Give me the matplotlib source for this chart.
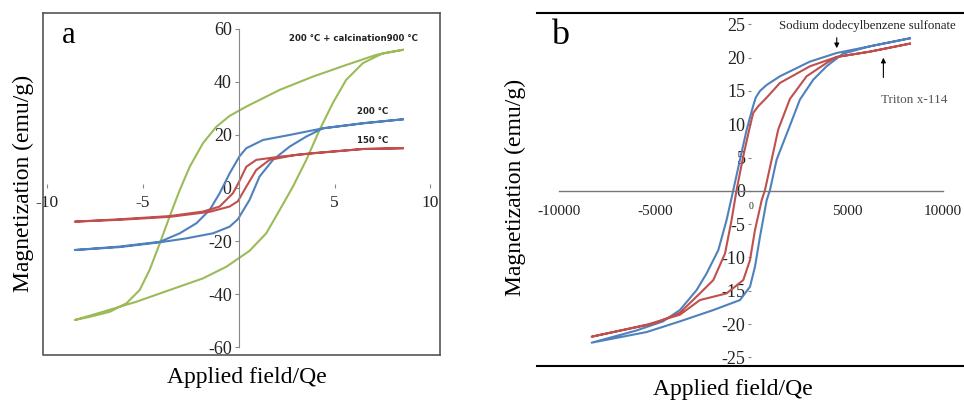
import numpy as np
import matplotlib
matplotlib.use('Agg')
import matplotlib.pyplot as plt

plt.rcParams['font.family'] = ['Liberation Serif', 'DejaVu Serif']

#-------------------- panel a data (field, magnetization) ----------------
a_red_up_x = [8.56, 6.48, 3.87, 2.14, 0.92, 0.4, 0.0, -0.3, -0.99, -1.86, -3.6, -6.2, -8.54]
a_red_up_m = [15.0, 14.7, 13.1, 11.8, 10.6, 8.0, 2.0, -2.0, -7.0, -8.9, -10.6, -11.8, -12.7]
a_red_lo_x = [-8.54, -6.2, -3.6, -1.51, -0.47, -0.04, 0.4, 0.92, 1.61, 3.0, 3.87, 6.48, 8.56]
a_red_lo_m = [-12.7, -12.0, -10.9, -9.0, -7.0, -5.0, 0.5, 6.8, 10.6, 12.5, 13.1, 14.7, 15.0]

a_blue_up_x = [8.56, 6.48, 4.39, 2.66, 1.27, 0.4, 0.05, -0.47, -0.99, -1.51, -2.2, -3.07, -4.11, -6.2, -8.54]
a_blue_up_m = [25.9, 24.4, 22.5, 20.0, 18.1, 15.0, 12.0, 5.5, -2.0, -8.3, -13.3, -17.1, -20.3, -22.1, -23.4]
a_blue_lo_x = [-8.54, -6.2, -4.11, -2.72, -1.34, -0.47, -0.04, 0.57, 1.09, 1.79, 2.66, 3.53, 4.39, 6.48, 8.56]
a_blue_lo_m = [-23.4, -22.3, -20.5, -19.0, -17.1, -14.6, -11.8, -4.5, 4.3, 10.6, 15.6, 19.4, 22.5, 24.4, 25.9]

a_green_up_x = [8.56, 7.17, 5.61, 3.87, 2.14, 0.4, -0.47, -1.16, -1.86, -2.55, -3.07, -3.6, -4.11,
                -4.64, -5.16, -5.85, -6.72, -7.76, -8.54]
a_green_up_m = [52.1, 50.2, 46.4, 42.0, 37.0, 30.7, 27.2, 23.1, 16.9, 8.0, -0.8, -10.8, -20.9,
                -30.9, -38.5, -43.5, -46.7, -48.6, -49.8]
a_green_lo_x = [-8.54, -7.07, -5.33, -3.6, -1.86, -0.64, 0.57, 1.44, 2.14, 2.83, 3.53, 4.22, 4.91,
                5.61, 6.48, 7.52, 8.56]
a_green_lo_m = [-49.8, -46.7, -42.9, -38.5, -34.1, -29.7, -23.7, -17.1, -8.3, 0.5, 10.6, 21.9, 32.0,
                40.8, 47.1, 50.8, 52.1]

a_xticks = [-10, -5, 0, 5, 10]
a_xticklabels = ['-10', '-5', '', '5', '10']
a_yticks = [-60, -40, -20, 0, 20, 40, 60]
a_yticklabels = ['-60', '-40', '-20', '0', '20', '40', '60']

#-------------------- panel b data (field Oe, magnetization) -------------
b_sds_up_x = [8280, 6200, 4470, 3070, 1510, 820, 470, 250, 100, -50, -220, -570, -920, -1270,
              -1700, -2310, -2830, -3700, -4580, -6000, -8300]
b_sds_up_m = [22.9, 21.7, 20.7, 19.4, 17.2, 15.9, 15.0, 14.0, 12.6, 11.0, 9.2, 4.7, 0.1, -4.4,
              -8.9, -12.4, -14.9, -17.9, -19.6, -21.0, -22.8]
b_sds_lo_x = [-8300, -5430, -3700, -1960, -570, -50, 210, 470, 820, 990, 1340, 1950, 2550,
              3250, 3940, 4800, 6200, 8280]
b_sds_lo_m = [-22.8, -21.2, -19.6, -17.9, -16.4, -14.4, -11.4, -6.9, -1.4, 0.1, 4.7, 9.2, 13.7,
              16.7, 18.7, 20.6, 21.7, 22.9]

b_tri_up_x = [8280, 6200, 4470, 3070, 1510, 820, 380, 120, -50, -400, -750, -1010, -1350,
              -1960, -2660, -3700, -5000, -8300]
b_tri_up_m = [22.1, 20.9, 20.1, 18.7, 16.2, 14.0, 12.7, 11.7, 9.7, 5.2, 0.1, -4.4, -9.4,
              -13.4, -15.4, -18.3, -19.9, -21.9]
b_tri_lo_x = [-8300, -5430, -3700, -2660, -1270, -400, -50, 210, 560, 730, 1080, 1420, 2030,
              2900, 3940, 4470, 6200, 8280]
b_tri_lo_m = [-21.9, -20.1, -18.6, -16.4, -15.4, -13.4, -10.4, -5.9, -1.4, 0.1, 4.7, 9.2, 13.8,
              17.2, 19.2, 20.1, 20.9, 22.1]

b_xticks = [-10000, -5000, 0, 5000, 10000]
b_yticks = [-25, -20, -15, -10, -5, 0, 5, 10, 15, 20, 25]

c_red = '#c0504d'
c_blue = '#4f81bd'
c_green = '#9bbb59'


def loop(ax, ux, um, lx, lm, color):
    x = np.concatenate([ux, lx])
    m = np.concatenate([um, lm])
    ax.plot(x, m, color=color, lw=1.5, solid_joinstyle='round')


fig = plt.figure(figsize=(9.64, 4.0), dpi=100)

#----------------------------------------------------------------------
# panel a
ax = fig.add_axes([43/964, 45/400, 397/964, 342/400])
ax.set_xlim(-10.2, 10.5)
ax.set_ylim(-63.0, 66.0)
loop(ax, a_green_up_x, a_green_up_m, a_green_lo_x, a_green_lo_m, c_green)
loop(ax, a_blue_up_x, a_blue_up_m, a_blue_lo_x, a_blue_lo_m, c_blue)
loop(ax, a_red_up_x, a_red_up_m, a_red_lo_x, a_red_lo_m, c_red)

for s in ['top', 'right']:
    ax.spines[s].set_color('#555555')
    ax.spines[s].set_linewidth(1.2)
ax.spines['left'].set_position(('data', 0))
ax.spines['left'].set_color('#888888')
ax.spines['left'].set_bounds(a_yticks[0], a_yticks[-1])
ax.spines['bottom'].set_position(('data', 0))
ax.spines['bottom'].set_visible(False)
# outer box (left and bottom sides)
ax.plot([0, 0, 1], [1, 0, 0], transform=ax.transAxes, color='#555555', lw=1.2, clip_on=False)

ax.set_xticks(a_xticks)
ax.set_xticklabels(a_xticklabels)
ax.set_yticks(a_yticks)
ax.set_yticklabels(a_yticklabels)
ax.tick_params(axis='x', direction='in', length=3, color='#888888', pad=5, labelsize=12.5, labelcolor='#222222')
ax.tick_params(axis='y', direction='out', length=3, color='#888888', pad=2, labelsize=13, labelcolor='#222222')

ax.text(0.065, 0.935, 'a', transform=ax.transAxes, fontsize=22, va='center', ha='center')
ax.text(6.0, 56.5, '200 °C + calcination900 °C', fontsize=6.2, fontweight='bold',
        family=['DejaVu Sans'], color='#222222', ha='center', va='center')
ax.text(7.0, 29.0, '200 °C', fontsize=6.2, fontweight='bold', family=['DejaVu Sans'],
        color='#222222', ha='center', va='center')
ax.text(7.0, 18.0, '150 °C', fontsize=6.2, fontweight='bold', family=['DejaVu Sans'],
        color='#222222', ha='center', va='center')

fig.text(23/964, 1 - 183/400, 'Magnetization (emu/g)', rotation=90, fontsize=17,
         ha='center', va='center')
fig.text(247/964, 1 - 378/400, 'Applied field/Qe', fontsize=17, ha='center', va='center')

#----------------------------------------------------------------------
# panel b
bx = fig.add_axes([537/964, 34/400, 470/964, 353/400])
bx.set_xlim(-11146, 13340)
bx.set_ylim(-26.3, 26.7)
loop(bx, b_sds_up_x, b_sds_up_m, b_sds_lo_x, b_sds_lo_m, c_blue)
loop(bx, b_tri_up_x, b_tri_up_m, b_tri_lo_x, b_tri_lo_m, c_red)

bx.spines['right'].set_visible(False)
bx.spines['top'].set_linewidth(1.5)
bx.spines['left'].set_position(('data', 0))
bx.spines['left'].set_visible(False)
bx.spines['bottom'].set_position(('data', 0))
bx.spines['bottom'].set_color('#777777')
bx.spines['bottom'].set_linewidth(1.0)
bx.spines['bottom'].set_bounds(b_xticks[0], b_xticks[-1])
# lower frame line
bx.plot([0, 1], [0, 0], transform=bx.transAxes, color='black', lw=1.5, clip_on=False)

bx.set_xticks(b_xticks)
bx.set_xticklabels([str(t) if t != 0 else '' for t in b_xticks])
bx.set_yticks(b_yticks)
bx.set_yticklabels([str(t) for t in b_yticks])
bx.tick_params(axis='x', direction='in', length=0, pad=10, labelsize=11, labelcolor='#222222')
bx.tick_params(axis='y', direction='out', length=2.5, color='#888888', pad=1.5, labelsize=13,
               labelcolor='#222222')
bx.text(0, -2.4, '0', fontsize=7, ha='center', va='center', color='#222222')

bx.text(0.05, 0.935, 'b', transform=bx.transAxes, fontsize=26, va='center', ha='center')
bx.annotate('', xy=(4470, 21.0), xytext=(4470, 23.4),
            arrowprops=dict(arrowstyle='-|>', color='black', lw=0.8, mutation_scale=7))
bx.text(1450, 24.8, 'Sodium dodecylbenzene sulfonate', fontsize=9.3, ha='left', va='center',
        color='#222222')
bx.annotate('', xy=(6900, 20.4), xytext=(6900, 16.6),
            arrowprops=dict(arrowstyle='-|>', color='black', lw=0.8, mutation_scale=7))
bx.text(6800, 13.6, 'Triton x-114', fontsize=9.5, ha='left', va='center', color='#555555')

fig.text(515/964, 1 - 187/400, 'Magnetization (emu/g)', rotation=90, fontsize=17,
         ha='center', va='center')
fig.text(733/964, 1 - 390/400, 'Applied field/Qe', fontsize=17, ha='center', va='center')

fig.savefig('out.png', dpi=100)
